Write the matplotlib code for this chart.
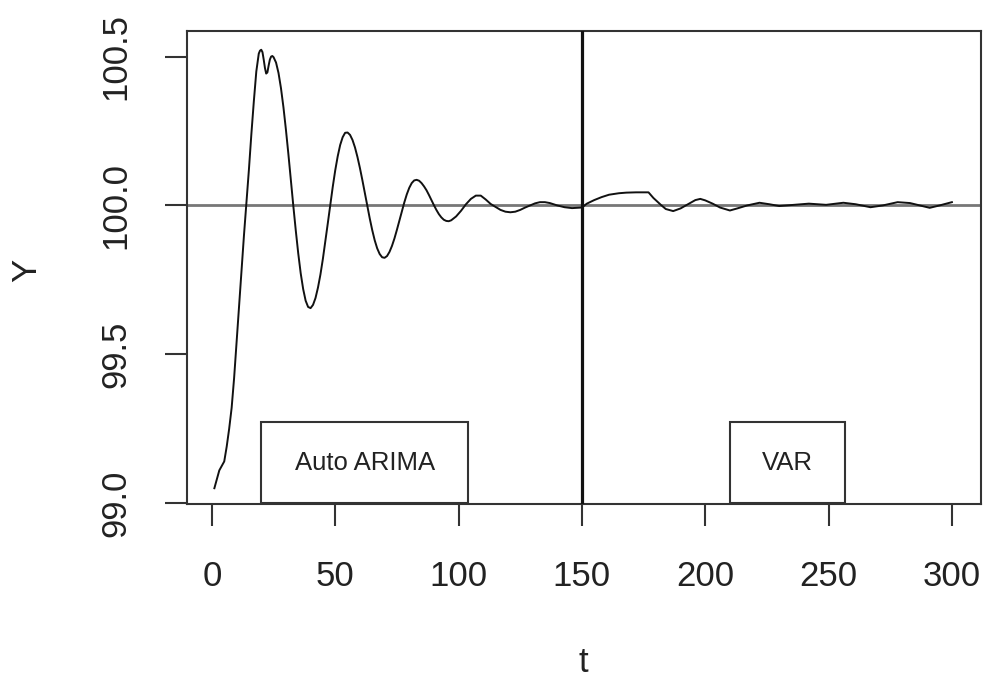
import matplotlib
matplotlib.use("Agg")
import matplotlib.pyplot as plt
from matplotlib.patches import Rectangle

plt.rcParams['font.family'] = ['Liberation Sans', 'DejaVu Sans']

# ---- data ----
t_arima = [1, 2, 3, 4, 5, 6, 7, 8, 9, 10, 11, 12, 13, 14, 15, 16, 17, 18, 19, 19.5,
           20, 20.5, 21, 21.5, 22, 22.5, 23, 23.5, 24, 24.5, 25, 26, 27, 28, 29, 30,
           31, 32, 33, 34, 35, 36, 37, 38, 39, 40, 41, 42, 43, 44, 45, 46, 47, 48,
           49, 50, 51, 52, 53, 54, 55, 56, 57, 58, 59, 60, 61, 62, 63, 64, 65, 66,
           67, 68, 69, 70, 71, 72, 73, 74, 75, 76, 77, 78, 79, 80, 81, 82, 83, 84,
           85, 86, 87, 88, 89, 90, 91, 92, 93, 94, 95, 96, 97, 99, 101, 103, 105,
           107, 109, 111, 113, 115, 117, 119, 121, 123, 125, 127, 129, 131, 133,
           135, 137, 140, 143, 146, 150]
y_arima = [99.05, 99.08, 99.11, 99.125, 99.14, 99.19, 99.25, 99.32, 99.42, 99.54,
           99.66, 99.78, 99.90, 100.01, 100.12, 100.24, 100.35, 100.45, 100.51, 100.52,
           100.523, 100.515, 100.49, 100.462, 100.443, 100.447, 100.47, 100.49, 100.50,
           100.502, 100.498, 100.480, 100.445, 100.394, 100.330, 100.255,
           100.173, 100.086, 99.999, 99.916, 99.839, 99.772, 99.719, 99.680, 99.659,
           99.655, 99.666, 99.689, 99.724, 99.768, 99.821, 99.880, 99.941, 100.003,
           100.063, 100.118, 100.165, 100.203, 100.229, 100.244, 100.245, 100.237,
           100.220, 100.195, 100.163, 100.126, 100.085, 100.042, 99.998, 99.956,
           99.917, 99.883, 99.856, 99.837, 99.826, 99.824, 99.830, 99.844, 99.864,
           99.889, 99.918, 99.949, 99.980, 100.010, 100.037, 100.059, 100.075,
           100.084, 100.086, 100.083, 100.075, 100.064, 100.051, 100.035, 100.018,
           100.001, 99.985, 99.971, 99.960, 99.952, 99.948, 99.947, 99.950, 99.963,
           99.982, 100.004, 100.022, 100.033, 100.033, 100.02, 100.005, 99.995,
           99.985, 99.979, 99.977, 99.979, 99.985, 99.993, 100.0, 100.007, 100.011,
           100.011, 100.008, 100.0, 99.994, 99.991, 99.993]

t_var = [150, 152, 155, 158, 161, 165, 168, 172, 177, 179, 182, 184, 187, 190,
         193, 196, 198, 200, 203, 206, 210, 213, 217, 222, 226, 230, 236, 242,
         249, 256, 261, 267, 272, 278, 283, 287, 291, 295, 300]
y_var = [99.993, 100.006, 100.018, 100.028, 100.036, 100.041, 100.043, 100.044,
         100.044, 100.025, 100.002, 99.988, 99.981, 99.99, 100.004, 100.018,
         100.022, 100.017, 100.006, 99.993, 99.983, 99.99, 100.0, 100.009,
         100.004, 99.998, 100.002, 100.006, 100.002, 100.009, 100.004, 99.994,
         100.0, 100.011, 100.008, 100.0, 99.992, 100.0, 100.011]

x_ticks = [0, 50, 100, 150, 200, 250, 300]
y_ticks = [99.0, 99.5, 100.0, 100.5]
y_ticklabels = ["99.0", "99.5", "100.0", "100.5"]
split_t = 150
ref_level = 100.0
labels = ["Auto ARIMA", "VAR"]

# ---- figure ----
fig = plt.figure(figsize=(9.92, 6.86), dpi=100)
ax = fig.add_axes([186.5 / 992, 1 - 504 / 686, (981 - 186.5) / 992, (504 - 31) / 686])

edge = '#333333'
ax.plot(t_arima + t_var[1:], y_arima + y_var[1:], color='#111111', lw=1.4,
        solid_joinstyle='round')
ax.axhline(ref_level, color='#777777', lw=2.0, zorder=1)
ax.axvline(split_t, color='#111111', lw=2.3, zorder=3)

ax.set_xlim(-10.3, 311.8)
ax.set_ylim(98.997, 100.586)

# legend-like boxes
boxes = [(20.1, 103.9, 62.0), (210.0, 256.6, 233.4)]
for (x0, x1, xc), lab in zip(boxes, labels):
    ax.add_patch(Rectangle((x0, 99.0), x1 - x0, 0.272, fill=False,
                           edgecolor=edge, lw=1.5, zorder=4))
    ax.text(xc, 99.134, lab, ha='center', va='center', fontsize=18.5,
            color='#222222', zorder=5)

ax.set_xticks(x_ticks)
ax.set_xticklabels([str(v) for v in x_ticks])
ax.set_yticks(y_ticks)
ax.set_yticklabels(y_ticklabels, rotation=90, va='center')

ax.tick_params(axis='both', direction='out', length=16, width=1.5, colors=edge,
               labelsize=25, labelcolor='#222222')
ax.tick_params(axis='x', pad=24)
ax.tick_params(axis='y', pad=23)

for s in ax.spines.values():
    s.set_color(edge)
    s.set_linewidth(1.5)

fig.text(583 / 992, 1 - 663 / 686, "t", ha='center', va='center', fontsize=25,
         color='#222222')
fig.text(27 / 992, 1 - 270 / 686, "Y", ha='center', va='center', fontsize=25,
         rotation=90, color='#222222')

fig.savefig("out.png", dpi=100)
